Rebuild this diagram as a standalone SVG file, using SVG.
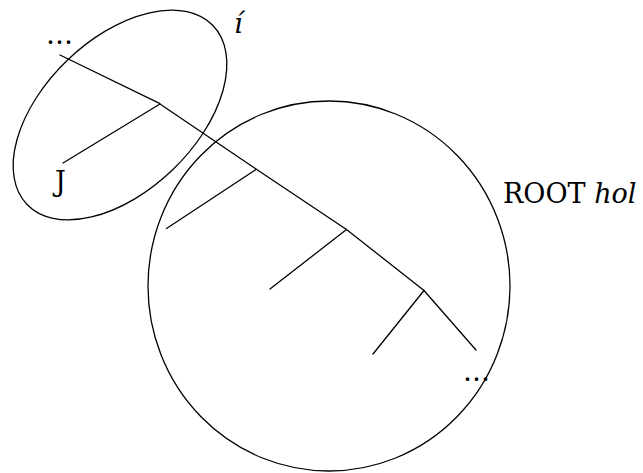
<svg xmlns="http://www.w3.org/2000/svg" width="643" height="473" viewBox="0 0 643 473">
<style>
.ln{fill:none;stroke:#000;stroke-width:1.3;stroke-linecap:round;stroke-linejoin:miter}
.ov{fill:none;stroke:#000;stroke-width:1.3}
.t{font-family:"DejaVu Serif","Liberation Serif",serif;font-size:27px;fill:#000}
.i{font-style:italic}
</style>
<rect width="643" height="473" fill="#fff"/>
<g id="ellipse-i">
<ellipse class="ov" cx="120" cy="115" rx="129" ry="76" transform="rotate(-43.9 120 115)"/>
<text class="t i" x="234" y="33">í</text>
</g>
<g id="circle-root">
<ellipse class="ov" cx="329" cy="286" rx="181" ry="185"/>
<text class="t" x="503" y="203">ROOT <tspan class="i">hol</tspan></text>
</g>
<g id="node-dots-top"><text class="t" x="46" y="44">…</text></g>
<g id="node-J"><text class="t" x="55" y="191">J</text></g>
<g id="node-dots-bottom"><text class="t" x="463" y="381">…</text></g>
<g id="connectors">
<polyline class="ln" points="60,55 159.5,103.3"/>
<polyline class="ln" points="160,104 256,169 346.5,229.5 424,290.5 476,350"/>
<line class="ln" x1="160" y1="104" x2="63" y2="163"/>
<line class="ln" x1="256" y1="169.5" x2="166.5" y2="228.5"/>
<line class="ln" x1="346.5" y1="229.5" x2="270" y2="289"/>
<line class="ln" x1="424" y1="290.5" x2="373" y2="354"/>
</g>
</svg>
